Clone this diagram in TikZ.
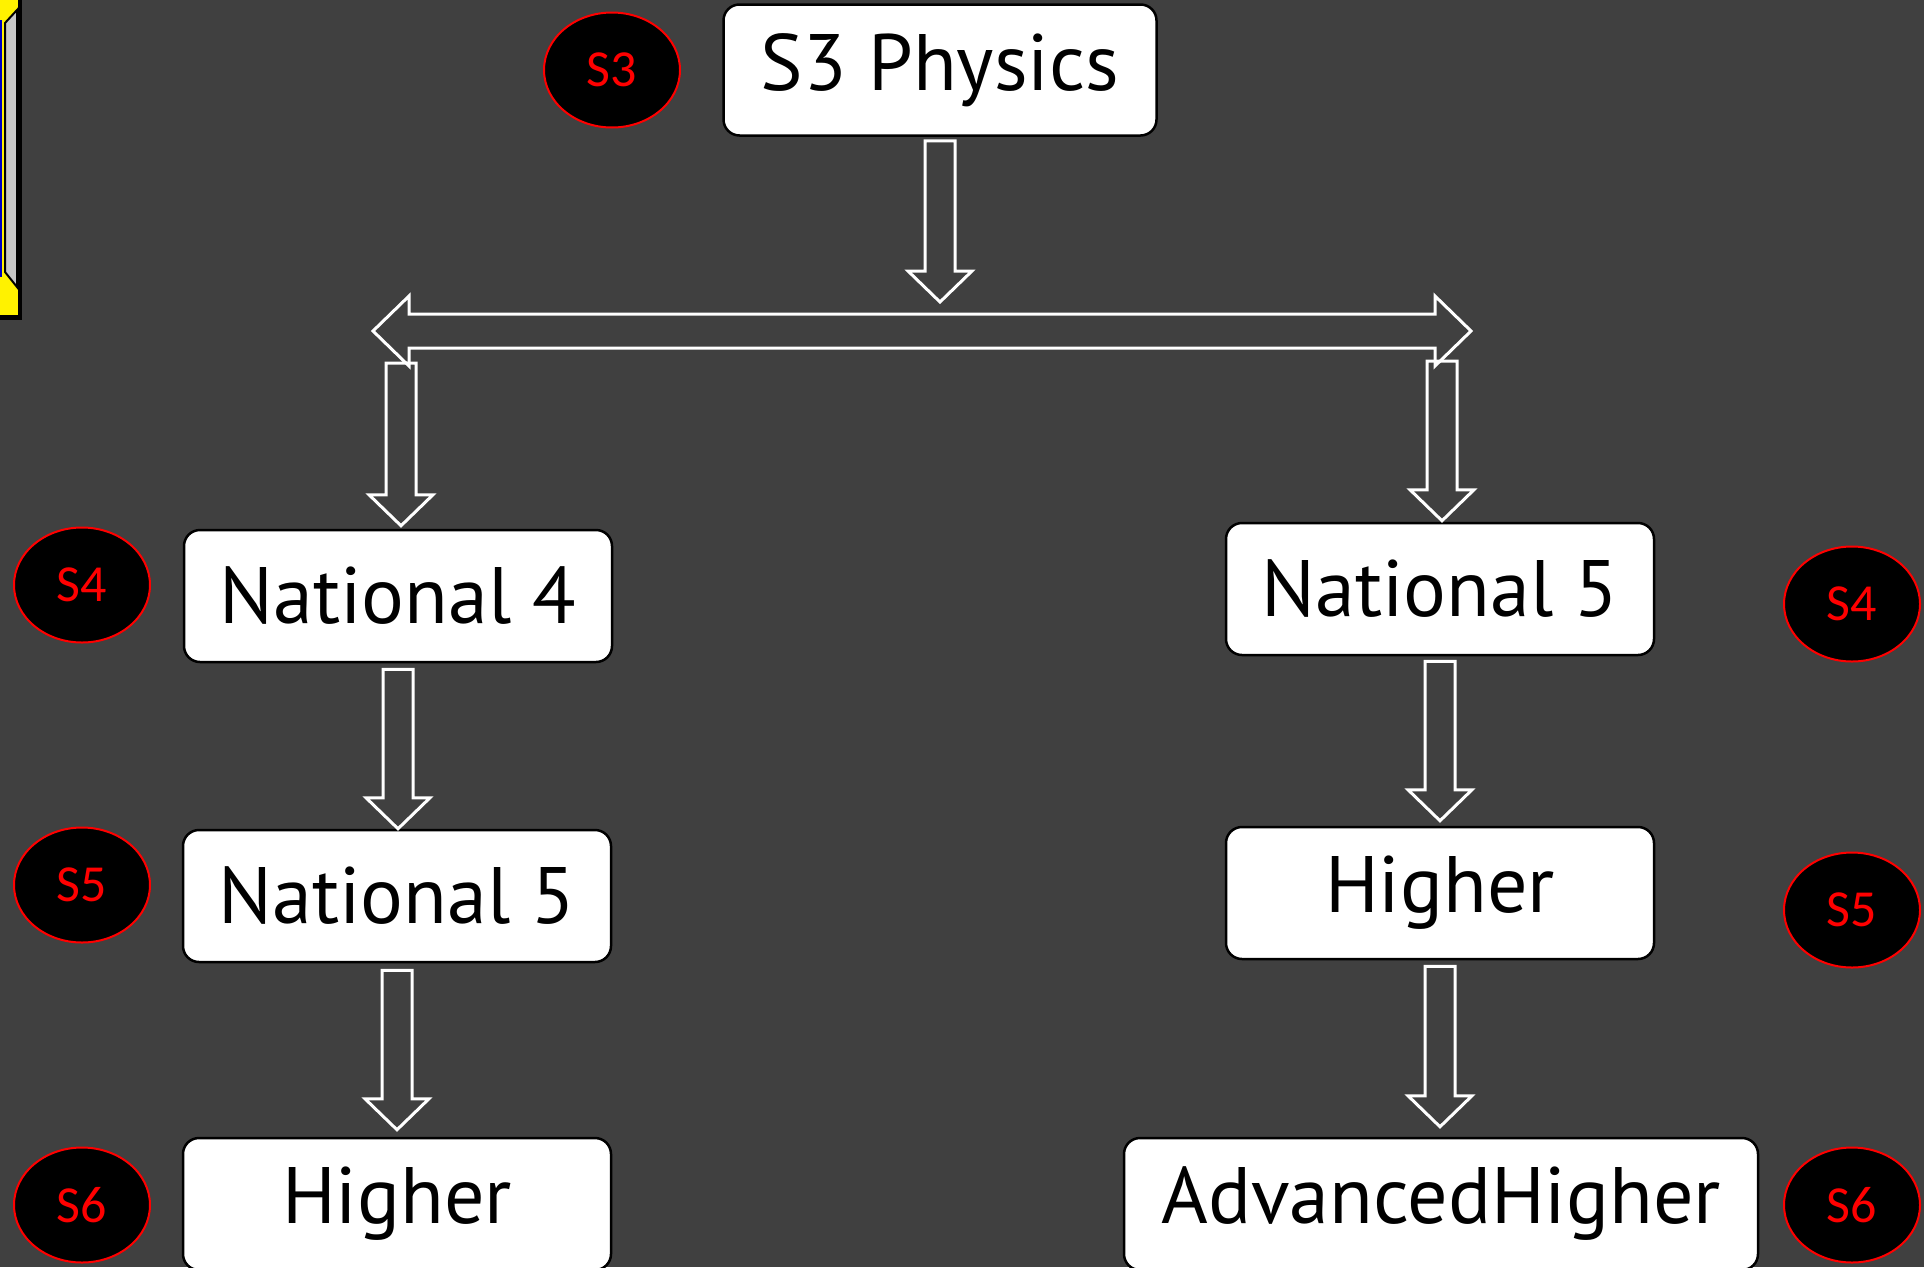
\documentclass[tikz,border=0pt]{standalone}
\usepackage{fontspec}
\setmainfont{PT Sans}
\newfontfamily\tagfont{Carlito}
\usetikzlibrary{shapes.geometric,calc,positioning}
\definecolor{slate}{HTML}{404040}
\definecolor{tagred}{HTML}{FF0000}
\definecolor{barblue}{HTML}{0000C0}

% hollow block arrow pointing down: #1 top of shaft, #2 tip
\newcommand{\fatdown}[2]{%
  \draw[fatline] let \p1=#1, \p2=#2 in
    (\x1-15pt,\y1) -- (\x1+15pt,\y1) -- (\x1+15pt,\y2+31pt) -- (\x1+32pt,\y2+31pt)
    -- (\x1,\y2) -- (\x1-32pt,\y2+31pt) -- (\x1-15pt,\y2+31pt) -- cycle;}

\tikzset{
  course/.style={draw=black, line width=2.5pt, fill=white, rounded corners=16pt,
    minimum width=428pt, minimum height=132pt, inner sep=0pt,
    font=\fontsize{80}{90}\selectfont},
  yeartag/.style={ellipse, draw=tagred, line width=2pt, fill=black, text=tagred,
    minimum width=136pt, minimum height=115pt, inner sep=0pt,
    font=\tagfont\fontsize{52}{58}\selectfont},
  fatline/.style={draw=white, line width=3pt, line join=miter},
}

\begin{document}
\begin{tikzpicture}[x=1pt, y=-1pt]
  \clip (0,0) rectangle (1924,1267);
  \fill[slate] (0,0) rectangle (1924,1267);

  % side bar at the top left
  \fill[black] (0,0) rectangle (22,320);
  \fill[yellow] (0,0) rectangle (18,315);
  \draw[black, line width=2pt, fill=gray!45] (17,10) -- (5,23) -- (5,272) -- (17,287) -- cycle;
  \fill[barblue] (0,20) rectangle (2,277);

  % courses
  \node[course, minimum width=433pt, minimum height=131pt] (s3) at (940,70) {S3 Physics};
  \node[course] (nat4) at (398,596) {National 4};
  \node[course] (nat5r) at (1440,589) {National 5};
  \node[course] (nat5l) at (397,896) {National 5};
  \node[course] (highr) at (1440,893) {Higher};
  \node[course] (highl) at (397,1204) {Higher};
  \node[course, minimum width=634pt] (advh) at (1441,1204) {AdvancedHigher};

  % year tags
  \node[yeartag] (tagS3) at (612,70) {S3};
  \node[yeartag] (tagS4l) at (82,585) {S4};
  \node[yeartag] (tagS5l) at (82,885) {S5};
  \node[yeartag] (tagS6l) at (82,1205) {S6};
  \node[yeartag] (tagS4r) at (1852,604) {S4};
  \node[yeartag] (tagS5r) at (1852,910) {S5};
  \node[yeartag] (tagS6r) at (1852,1205) {S6};

  % split arrow
  \coordinate (join) at (940,302);
  \coordinate (forkL) at (373,331);
  \coordinate (forkR) at (1471,331);
  \fatdown{($(s3.south)+(0,4)$)}{(join)}
  \draw[fatline] let \p1=(forkL), \p2=(forkR) in
    (\x1,\y1) -- (\x1+36pt,\y1+35pt) -- (\x1+36pt,\y1+17pt) -- (\x2-36pt,\y2+17pt)
    -- (\x2-36pt,\y2+35pt) -- (\x2,\y2) -- (\x2-36pt,\y2-35pt) -- (\x2-36pt,\y2-17pt)
    -- (\x1+36pt,\y1-17pt) -- (\x1+36pt,\y1-35pt) -- cycle;
  \fatdown{($(nat4.north |- forkL)+(3,32)$)}{($(nat4.north)+(3,-3)$)}
  \fatdown{($(nat5r.north |- forkR)+(2,30)$)}{($(nat5r.north)+(2,-1)$)}

  % year to year
  \fatdown{($(nat4.south)+(0,6)$)}{(nat5l.north)}
  \fatdown{($(nat5l.south)+(0,7)$)}{($(highl.north)+(0,-7)$)}
  \fatdown{($(nat5r.south)+(0,5)$)}{($(highr.north)+(0,-5)$)}
  \fatdown{($(highr.south)+(0,6)$)}{($(advh.north)+(0,-10)$)}
\end{tikzpicture}
\end{document}
